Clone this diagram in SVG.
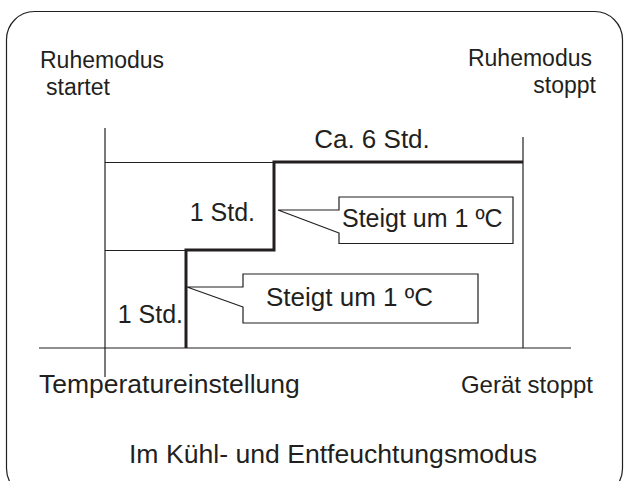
<svg xmlns="http://www.w3.org/2000/svg" width="625" height="481" viewBox="0 0 625 481">
<style>
.t{font-family:"Liberation Sans",Arial,sans-serif;fill:#231f20;font-size:25px}
.s{font-size:23px}
.thin{fill:none;stroke:#231f20;stroke-width:1.2}
.thick{fill:none;stroke:#231f20;stroke-width:3;stroke-linejoin:miter}
.call{fill:#fff;stroke:#231f20;stroke-width:1.2}
</style>
<rect width="625" height="481" fill="#fff"/>
<rect id="frame" x="6.5" y="11.5" width="616" height="485" rx="28" class="thin"/>
<g id="connectors">
<line x1="105" y1="128" x2="105" y2="377" class="thin"/>
<line x1="523" y1="137" x2="523" y2="348" class="thin"/>
<line x1="39" y1="348" x2="571" y2="348" class="thin"/>
<line x1="105" y1="162.5" x2="274" y2="162.5" class="thin"/>
<line x1="105" y1="250.5" x2="186" y2="250.5" class="thin"/>
<polyline points="523,162 274,162 274,250 186,250 186,348" class="thick"/>
</g>
<g id="labels">
<text class="t s" x="40" y="68">Ruhemodus</text>
<text class="t s" x="46" y="95">startet</text>
<text class="t s" x="592" y="66" text-anchor="end">Ruhemodus</text>
<text class="t s" x="596" y="93" text-anchor="end">stoppt</text>
<text class="t" x="372" y="148" text-anchor="middle" style="font-size:26px">Ca. 6 Std.</text>
<text class="t" x="255" y="221" text-anchor="end">1 Std.</text>
<text class="t" x="183" y="323" text-anchor="end">1 Std.</text>
<text class="t" x="39" y="393" style="font-size:26.5px">Temperatureinstellung</text>
<text class="t" x="593" y="393" text-anchor="end" style="font-size:24px">Gerät stoppt</text>
<text class="t" x="333" y="463" text-anchor="middle" style="font-size:26.6px">Im Kühl- und Entfeuchtungsmodus</text>
</g>
<g id="callout1">
<path d="M339,233 L278,210 L339,210 L339,197 L513,197 L513,243.5 L339,243.5 Z" class="call"/>
<text class="t" x="342" y="227">Steigt um 1 ºC</text>
</g>
<g id="callout2">
<path d="M243,307 L187,287 L243,287 L243,274 L478,274 L478,323 L243,323 Z" class="call"/>
<text class="t" x="266" y="306" style="font-size:26px">Steigt um 1 ºC</text>
</g>
</svg>
